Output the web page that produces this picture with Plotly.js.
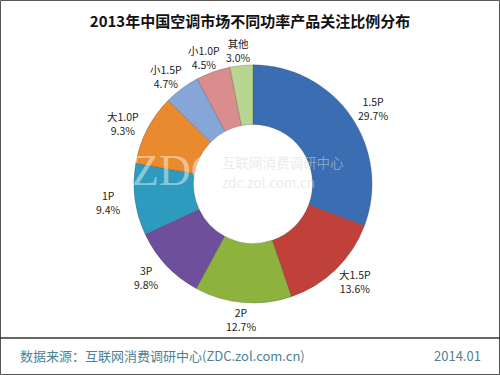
<!DOCTYPE html>
<html>
<head>
<meta charset="utf-8">
<script src="https://cdn.plot.ly/plotly-3.0.1.min.js"></script>
<style>html,body{margin:0;padding:0;background:#fff;}#chart{width:500px;height:375px;}</style>
</head>
<body>
<div id="chart"></div>
<script>
const categories = ["1.5P", "大1.5P", "2P", "3P", "1P", "大1.0P", "小1.5P", "小1.0P", "其他"];
const shares = [29.7, 13.6, 12.7, 9.8, 9.4, 9.3, 4.7, 4.5, 3.0];
const colors = ["#3b6db3", "#c0403a", "#8db23e", "#6d4f9c", "#2d9bbd", "#ea8a2e", "#86a6d8", "#d98d8d", "#b8d68f"];
const titleText = "2013年中国空调市场不同功率产品关注比例分布";
const sourceText = "数据来源：互联网消费调研中心(ZDC.zol.com.cn)";
const dateText = "2014.01";

const W = 500, H = 375;
const dom = {x: [0.266, 0.746], y: [0.192, 0.827]};
const font = "Noto Sans CJK SC, sans-serif";

const trace = {
  type: "pie",
  values: shares,
  labels: categories,
  textinfo: "none",
  hole: 0.5,
  sort: false,
  direction: "clockwise",
  rotation: 0,
  marker: {colors: colors, line: {color: "rgba(60,60,60,0.25)", width: 1}},
  domain: dom,
  showlegend: false,
  hoverinfo: "none"
};

// Label positions derived from each slice's mid-angle (data-driven)
const total = shares.reduce((a, b) => a + b, 0);
const cx = (dom.x[0] + dom.x[1]) / 2 * W;
const cy = (1 - (dom.y[0] + dom.y[1]) / 2) * H;
const R = Math.min((dom.x[1] - dom.x[0]) * W, (dom.y[1] - dom.y[0]) * H) / 2;
const rx = R + 27, ry = R + 16, yShift = 1;
let cum = 0;
const labelAnns = shares.map((v, i) => {
  const mid = (cum + v / 2) / total * 2 * Math.PI;
  cum += v;
  const px = cx + rx * Math.sin(mid);
  const py = cy - ry * Math.cos(mid) + yShift;
  return {
    text: categories[i] + "<br>" + v.toFixed(1) + "%",
    xref: "paper", yref: "paper", x: px / W, y: 1 - py / H,
    xanchor: "center", yanchor: "middle", align: "center", showarrow: false,
    borderpad: 0,
    font: {family: font, size: 10.5, color: "#222"}
  };
});

const wm = "rgba(215,215,215,0.5)";
const layout = {
  width: W, height: H,
  margin: {l: 0, r: 0, t: 0, b: 0},
  paper_bgcolor: "#fff",
  showlegend: false,
  title: {text: "<b>" + titleText + "</b>", x: 0.5, xanchor: "center", y: 1 - 22/H, yanchor: "middle",
          font: {family: font, size: 15, color: "#111"}},
  shapes: [
    {type: "rect", xref: "paper", yref: "paper", x0: 0.001, x1: 0.999, y0: 0.0013, y1: 0.9987,
     line: {color: "#555", width: 1}},
    {type: "line", xref: "paper", yref: "paper", x0: 0, x1: 1, y0: 1 - 338/H, y1: 1 - 338/H,
     line: {color: "#333", width: 1.5}}
  ],
  annotations: labelAnns.concat([
    {text: sourceText, xref: "paper", yref: "paper", x: 18/W, y: 1 - 355/H, xanchor: "left", yanchor: "middle",
     showarrow: false, font: {family: font, size: 13, color: "#4e8291"}},
    {text: dateText, xref: "paper", yref: "paper", x: 483/W, y: 1 - 355/H, xanchor: "right", yanchor: "middle",
     showarrow: false, font: {family: font, size: 13, color: "#4e8291"}},
    {text: "ZDC", xref: "paper", yref: "paper", x: 131/W, y: 1 - 171/H, xanchor: "left", yanchor: "middle",
     showarrow: false, borderpad: 0, font: {family: "Liberation Serif, serif", size: 44, color: "rgba(255,255,255,0.45)"}},
    {text: "互联网消费调研中心", xref: "paper", yref: "paper", x: 221/W, y: 1 - 162/H, xanchor: "left", yanchor: "middle",
     showarrow: false, borderpad: 0, font: {family: font, size: 13.5, color: wm}},
    {text: "zdc.zol.com.cn", xref: "paper", yref: "paper", x: 221/W, y: 1 - 182/H, xanchor: "left", yanchor: "middle",
     showarrow: false, borderpad: 0, font: {family: font, size: 13.5, color: wm}}
  ])
};

Plotly.newPlot("chart", [trace], layout, {displayModeBar: false, staticPlot: true});
</script>
</body>
</html>
